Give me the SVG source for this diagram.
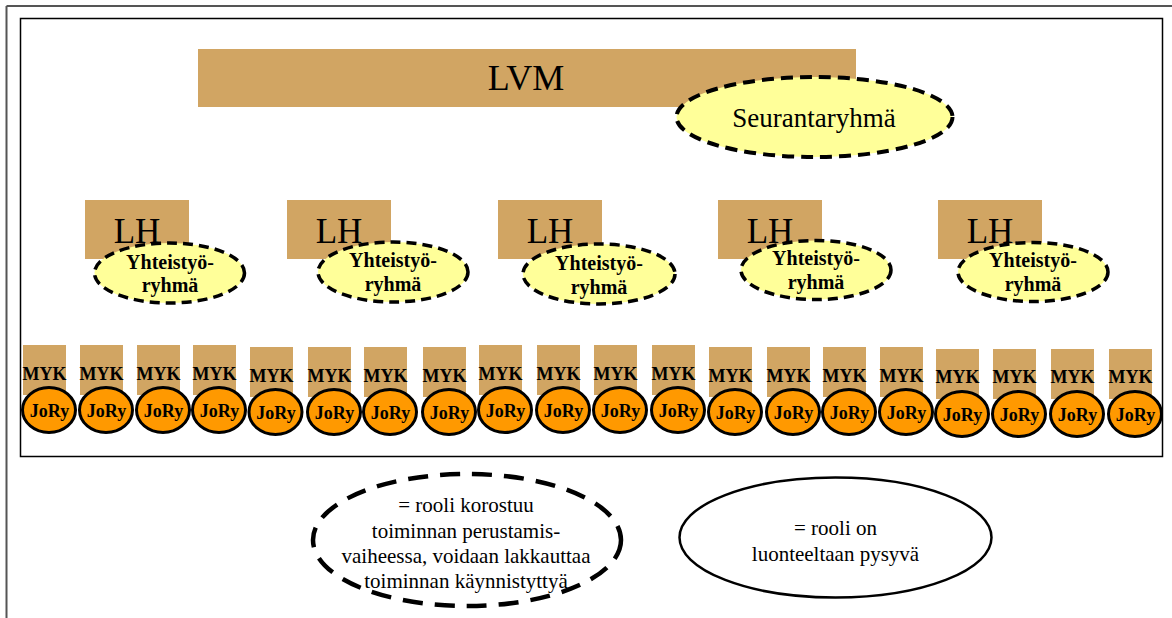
<svg xmlns="http://www.w3.org/2000/svg" width="1172" height="618" viewBox="0 0 1172 618">
<style>
.tan{fill:#D1A563}
.t{font-family:"Liberation Serif","Times New Roman",serif;fill:#000;text-anchor:middle}
.big{font-size:36px}
.lh{font-size:35px}
.yt{font-size:20px;font-weight:bold}
.myk{font-size:18px;font-weight:bold}
.leg{font-size:21px}
.yel{fill:#FFFF99;stroke:#000;stroke-width:3.5;stroke-dasharray:10 6}
.jory{fill:#FF9900;stroke:#000;stroke-width:3}
</style>
<rect width="1172" height="618" fill="#fff"/>
<g id="frame">
<line x1="6.5" y1="6" x2="1172" y2="6" stroke="#555" stroke-width="2"/>
<line x1="6.5" y1="6" x2="6.5" y2="618" stroke="#555" stroke-width="2"/>
<rect x="20.5" y="18.5" width="1142" height="438" fill="none" stroke="#000" stroke-width="1.5"/>
</g>
<g id="connectors"></g>
<g id="lvm">
<rect class="tan" x="198" y="49" width="658" height="58"/>
<text class="t big" x="526" y="90">LVM</text>
</g>
<g id="seurantaryhma">
<ellipse cx="814.5" cy="117" rx="138" ry="40" fill="#FFFF99" stroke="#000" stroke-width="4" stroke-dasharray="12 7"/>
<text class="t" style="font-size:27px" x="814" y="127">Seurantaryhmä</text>
</g>
<g id="lh1"><rect class="tan" x="85" y="200" width="104" height="59"/><text class="t lh" x="137" y="243">LH</text></g>
<g id="lh2"><rect class="tan" x="287" y="200" width="104" height="59"/><text class="t lh" x="339" y="243">LH</text></g>
<g id="lh3"><rect class="tan" x="498" y="200" width="104" height="59"/><text class="t lh" x="550" y="243">LH</text></g>
<g id="lh4"><rect class="tan" x="718" y="200" width="104" height="59"/><text class="t lh" x="770" y="243">LH</text></g>
<g id="lh5"><rect class="tan" x="938" y="200" width="104" height="59"/><text class="t lh" x="990" y="243">LH</text></g>
<g id="yr1"><ellipse class="yel" cx="169.5" cy="273" rx="75" ry="30"/><text class="t yt" x="170" y="269">Yhteistyö-</text><text class="t yt" x="170" y="292">ryhmä</text></g>
<g id="yr2"><ellipse class="yel" cx="393" cy="272" rx="75" ry="30"/><text class="t yt" x="393" y="267">Yhteistyö-</text><text class="t yt" x="393" y="291">ryhmä</text></g>
<g id="yr3"><ellipse class="yel" cx="599" cy="274" rx="76" ry="30"/><text class="t yt" x="599" y="270">Yhteistyö-</text><text class="t yt" x="599" y="294">ryhmä</text></g>
<g id="yr4"><ellipse class="yel" cx="816" cy="270" rx="75" ry="29.5"/><text class="t yt" x="816" y="265">Yhteistyö-</text><text class="t yt" x="816" y="289">ryhmä</text></g>
<g id="yr5"><ellipse class="yel" cx="1033" cy="272" rx="75" ry="29.5"/><text class="t yt" x="1033" y="267">Yhteistyö-</text><text class="t yt" x="1033" y="291">ryhmä</text></g>
<g id="myk1"><rect class="tan" x="23" y="345" width="43" height="50"/><text class="t myk" x="44.5" y="380">MYK</text><ellipse class="jory" cx="49" cy="410" rx="26.5" ry="22.5"/><text class="t myk" x="49.5" y="417">JoRy</text></g>
<g id="myk2"><rect class="tan" x="80" y="345" width="43" height="50"/><text class="t myk" x="101.5" y="380">MYK</text><ellipse class="jory" cx="106" cy="410" rx="26.5" ry="22.5"/><text class="t myk" x="106.5" y="417">JoRy</text></g>
<g id="myk3"><rect class="tan" x="137" y="345" width="43" height="50"/><text class="t myk" x="158.5" y="380">MYK</text><ellipse class="jory" cx="163" cy="410" rx="26.5" ry="22.5"/><text class="t myk" x="163.5" y="417">JoRy</text></g>
<g id="myk4"><rect class="tan" x="193" y="345" width="43" height="50"/><text class="t myk" x="214.5" y="380">MYK</text><ellipse class="jory" cx="219" cy="410" rx="26.5" ry="22.5"/><text class="t myk" x="219.5" y="417">JoRy</text></g>
<g id="myk5"><rect class="tan" x="250" y="347" width="43" height="50"/><text class="t myk" x="271.5" y="382">MYK</text><ellipse class="jory" cx="275.5" cy="412" rx="26.5" ry="22.5"/><text class="t myk" x="276" y="419">JoRy</text></g>
<g id="myk6"><rect class="tan" x="308" y="347" width="43" height="50"/><text class="t myk" x="329.5" y="382">MYK</text><ellipse class="jory" cx="334" cy="412" rx="26.5" ry="22.5"/><text class="t myk" x="334.5" y="419">JoRy</text></g>
<g id="myk7"><rect class="tan" x="364" y="347" width="43" height="50"/><text class="t myk" x="385.5" y="382">MYK</text><ellipse class="jory" cx="390" cy="412" rx="26.5" ry="22.5"/><text class="t myk" x="390.5" y="419">JoRy</text></g>
<g id="myk8"><rect class="tan" x="423" y="347" width="43" height="50"/><text class="t myk" x="444.5" y="382">MYK</text><ellipse class="jory" cx="449" cy="412" rx="26.5" ry="22.5"/><text class="t myk" x="449.5" y="419">JoRy</text></g>
<g id="myk9"><rect class="tan" x="479" y="345" width="43" height="50"/><text class="t myk" x="500.5" y="380">MYK</text><ellipse class="jory" cx="505" cy="410" rx="26.5" ry="22.5"/><text class="t myk" x="505.5" y="417">JoRy</text></g>
<g id="myk10"><rect class="tan" x="537" y="345" width="43" height="50"/><text class="t myk" x="558.5" y="380">MYK</text><ellipse class="jory" cx="563" cy="410" rx="26.5" ry="22.5"/><text class="t myk" x="563.5" y="417">JoRy</text></g>
<g id="myk11"><rect class="tan" x="594" y="345" width="43" height="50"/><text class="t myk" x="615.5" y="380">MYK</text><ellipse class="jory" cx="620" cy="410" rx="26.5" ry="22.5"/><text class="t myk" x="620.5" y="417">JoRy</text></g>
<g id="myk12"><rect class="tan" x="652" y="345" width="43" height="50"/><text class="t myk" x="673.5" y="380">MYK</text><ellipse class="jory" cx="678" cy="410" rx="26.5" ry="22.5"/><text class="t myk" x="678.5" y="417">JoRy</text></g>
<g id="myk13"><rect class="tan" x="709" y="347" width="43" height="50"/><text class="t myk" x="730.5" y="382">MYK</text><ellipse class="jory" cx="735" cy="412" rx="26.5" ry="22.5"/><text class="t myk" x="735.5" y="419">JoRy</text></g>
<g id="myk14"><rect class="tan" x="767" y="347" width="43" height="50"/><text class="t myk" x="788.5" y="382">MYK</text><ellipse class="jory" cx="793" cy="412" rx="26.5" ry="22.5"/><text class="t myk" x="793.5" y="419">JoRy</text></g>
<g id="myk15"><rect class="tan" x="823" y="347" width="43" height="50"/><text class="t myk" x="844.5" y="382">MYK</text><ellipse class="jory" cx="849" cy="412" rx="26.5" ry="22.5"/><text class="t myk" x="849.5" y="419">JoRy</text></g>
<g id="myk16"><rect class="tan" x="880" y="347" width="43" height="50"/><text class="t myk" x="901.5" y="382">MYK</text><ellipse class="jory" cx="906" cy="412" rx="26.5" ry="22.5"/><text class="t myk" x="906.5" y="419">JoRy</text></g>
<g id="myk17"><rect class="tan" x="936" y="349" width="43" height="50"/><text class="t myk" x="957.5" y="383">MYK</text><ellipse class="jory" cx="962" cy="414" rx="26.5" ry="22.5"/><text class="t myk" x="962.5" y="421">JoRy</text></g>
<g id="myk18"><rect class="tan" x="993" y="349" width="43" height="50"/><text class="t myk" x="1014.5" y="383">MYK</text><ellipse class="jory" cx="1019" cy="414" rx="26.5" ry="22.5"/><text class="t myk" x="1019.5" y="421">JoRy</text></g>
<g id="myk19"><rect class="tan" x="1051" y="349" width="43" height="50"/><text class="t myk" x="1072.5" y="383">MYK</text><ellipse class="jory" cx="1077" cy="414" rx="26.5" ry="22.5"/><text class="t myk" x="1077.5" y="421">JoRy</text></g>
<g id="myk20"><rect class="tan" x="1109" y="349" width="43" height="50"/><text class="t myk" x="1130.5" y="383">MYK</text><ellipse class="jory" cx="1135" cy="414" rx="26.5" ry="22.5"/><text class="t myk" x="1135.5" y="421">JoRy</text></g>
<g id="legend-dashed">
<ellipse cx="467" cy="540" rx="154" ry="66" fill="none" stroke="#000" stroke-width="4.5" stroke-dasharray="20 12"/>
<text class="t leg" x="466" y="512">= rooli korostuu</text>
<text class="t leg" x="466" y="538">toiminnan perustamis-</text>
<text class="t leg" x="466" y="563">vaiheessa, voidaan lakkauttaa</text>
<text class="t leg" x="466" y="588">toiminnan käynnistyttyä</text>
</g>
<g id="legend-solid">
<ellipse cx="835.5" cy="537.5" rx="156" ry="60" fill="none" stroke="#000" stroke-width="2.5"/>
<text class="t leg" x="835.5" y="535">= rooli on</text>
<text class="t leg" x="835.5" y="561">luonteeltaan pysyvä</text>
</g>
</svg>
